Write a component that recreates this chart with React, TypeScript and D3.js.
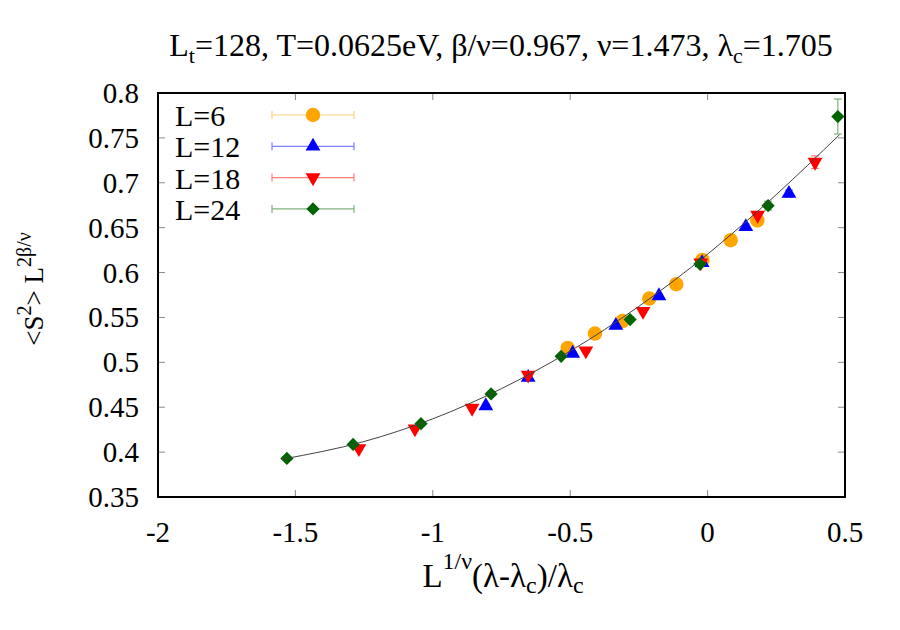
import React from "react";
import * as d3 from "d3";

const xTicks = [-2, -1.5, -1, -0.5, 0, 0.5];
const yTicks = [0.35, 0.4, 0.45, 0.5, 0.55, 0.6, 0.65, 0.7, 0.75, 0.8];

const seriesNames = ["L=6", "L=12", "L=18", "L=24"];

const l6X = [-0.509, -0.41, -0.31, -0.212, -0.114, -0.019, 0.084, 0.181];
const l6Y = [0.516, 0.532, 0.546, 0.571, 0.587, 0.614, 0.636, 0.658];
const l6E = [0.002, 0.002, 0.002, 0.002, 0.002, 0.002, 0.002, 0.003];

const l12X = [-0.807, -0.653, -0.491, -0.334, -0.177, -0.02, 0.139, 0.296];
const l12Y = [0.4515, 0.483, 0.51, 0.541, 0.574, 0.611, 0.651, 0.688];
const l12E = [0.002, 0.002, 0.002, 0.002, 0.002, 0.002, 0.003, 0.004];

const l18X = [-1.269, -1.065, -0.857, -0.653, -0.443, -0.235, -0.025, 0.182, 0.391];
const l18Y = [0.404, 0.426, 0.449, 0.486, 0.513, 0.557, 0.611, 0.664, 0.723];
const l18E = [0.002, 0.002, 0.002, 0.002, 0.002, 0.002, 0.003, 0.004, 0.007];

const l24X = [-1.531, -1.29, -1.043, -0.788, -0.533, -0.282, -0.028, 0.22, 0.474];
const l24Y = [0.393, 0.4085, 0.4317, 0.4648, 0.5067, 0.5476, 0.6094, 0.6745, 0.7738];
const l24E = [0.002, 0.002, 0.002, 0.002, 0.002, 0.003, 0.003, 0.005, 0.0195];

const fitX = [-1.55, -1.25, -1.0, -0.75, -0.5, -0.25, 0, 0.25, 0.48];
const fitY = [0.392, 0.4118, 0.4371, 0.4707, 0.5125, 0.5624, 0.6205, 0.6869, 0.7535];

const W = 900, H = 630;
const left = 158, right = 845, top = 93, bottom = 497;
const FONT = "'Liberation Serif', 'Times New Roman', serif";
const FS = 29;

const colors = ["#ffa500", "#0000ff", "#ff0000", "#006400"];
const errColors = ["#ffd27f", "#7f7fff", "#ff7f7f", "#7fb17f"];

export default function App() {
  const x = d3.scaleLinear().domain([-2, 0.5]).range([left, right]);
  const y = d3.scaleLinear().domain([0.35, 0.8]).range([bottom, top]);

  const series = [
    { xs: l6X, ys: l6Y, es: l6E },
    { xs: l12X, ys: l12Y, es: l12E },
    { xs: l18X, ys: l18Y, es: l18E },
    { xs: l24X, ys: l24Y, es: l24E },
  ];

  const symbols = [
    { path: d3.symbol(d3.symbolCircle, 165)() as string, rot: 0 },
    { path: d3.symbol(d3.symbolTriangle, 95)() as string, rot: 0 },
    { path: d3.symbol(d3.symbolTriangle, 95)() as string, rot: 180 },
    { path: d3.symbol(d3.symbolSquare, 88)() as string, rot: 45 },
  ];

  const fitLine = d3
    .line<number>()
    .x((_, i) => x(fitX[i]))
    .y((d) => y(d))
    .curve(d3.curveMonotoneX)(fitY) as string;

  const tickLen = 7;
  const cap = 4;

  return (
    <svg width={W} height={H} style={{ display: "block", position: "absolute", left: 0, top: 0 }} fontFamily={FONT}>
      <rect x={0} y={0} width={W} height={H} fill="#fff" />
      {/* title */}
      <text x={501} y={56} fontSize={32} textAnchor="middle" fill="#000">
        L<tspan fontSize={22} dy={7}>t</tspan>
        <tspan dy={-7}>=128, T=0.0625eV, β/ν=0.967, ν=1.473, λ</tspan>
        <tspan fontSize={22} dy={7}>c</tspan>
        <tspan dy={-7}>=1.705</tspan>
      </text>

      {/* ticks */}
      {xTicks.map((t) => (
        <g key={"xt" + t}>
          <line x1={x(t)} x2={x(t)} y1={bottom} y2={bottom - tickLen} stroke="#888" />
          <line x1={x(t)} x2={x(t)} y1={top} y2={top + tickLen} stroke="#888" />
          <text x={x(t)} y={542} fontSize={FS} textAnchor="middle">
            {t}
          </text>
        </g>
      ))}
      {yTicks.map((t) => (
        <g key={"yt" + t}>
          <line x1={left} x2={left + tickLen} y1={y(t)} y2={y(t)} stroke="#888" />
          <line x1={right} x2={right - tickLen} y1={y(t)} y2={y(t)} stroke="#888" />
          <text x={139} y={y(t) + 10} fontSize={FS} textAnchor="end">
            {t}
          </text>
        </g>
      ))}

      {/* axis labels */}
      <text x={503} y={587} fontSize={33} textAnchor="middle">
        L<tspan fontSize={24} dy={-18}>1/ν</tspan>
        <tspan dy={18}>(λ-λ</tspan>
        <tspan fontSize={24} dy={6}>c</tspan>
        <tspan dy={-6}>)/λ</tspan>
        <tspan fontSize={24} dy={6}>c</tspan>
      </text>
      <text transform={`translate(43,289) rotate(-90)`} fontSize={27} textAnchor="middle">
        &lt;S<tspan fontSize={20} dy={-12}>2</tspan>
        <tspan dy={12}>&gt; L</tspan>
        <tspan fontSize={20} dy={-12}>2β/ν</tspan>
      </text>

      {/* data */}
      {series.map((s, si) => (
        <g key={"s" + si}>
          {s.xs.map((xv, i) => (
            <g key={i}>
              <line x1={x(xv)} x2={x(xv)} y1={y(s.ys[i] - s.es[i])} y2={y(s.ys[i] + s.es[i])} stroke={errColors[si]} strokeWidth={1.2} />
              <line x1={x(xv) - cap} x2={x(xv) + cap} y1={y(s.ys[i] - s.es[i])} y2={y(s.ys[i] - s.es[i])} stroke={errColors[si]} strokeWidth={1.2} />
              <line x1={x(xv) - cap} x2={x(xv) + cap} y1={y(s.ys[i] + s.es[i])} y2={y(s.ys[i] + s.es[i])} stroke={errColors[si]} strokeWidth={1.2} />
              <path d={symbols[si].path} transform={`translate(${x(xv)},${y(s.ys[i])}) rotate(${symbols[si].rot})`} fill={colors[si]} />
            </g>
          ))}
        </g>
      ))}

      <path d={fitLine} fill="none" stroke="#444" strokeWidth={1} />

      {/* legend */}
      {seriesNames.map((n, i) => {
        const cy = 115 + i * 31.3;
        return (
          <g key={"lg" + i}>
            <text x={175} y={cy + 11} fontSize={30}>
              {n}
            </text>
            <line x1={272} x2={354} y1={cy} y2={cy} stroke={errColors[i]} strokeWidth={1.2} />
            <line x1={272} x2={272} y1={cy - cap} y2={cy + cap} stroke={errColors[i]} strokeWidth={1.2} />
            <line x1={354} x2={354} y1={cy - cap} y2={cy + cap} stroke={errColors[i]} strokeWidth={1.2} />
            <path d={symbols[i].path} transform={`translate(313,${cy}) rotate(${symbols[i].rot})`} fill={colors[i]} />
          </g>
        );
      })}

      {/* frame */}
      <rect x={left} y={top} width={right - left} height={bottom - top} fill="none" stroke="#000" strokeWidth={2} />
    </svg>
  );
}
